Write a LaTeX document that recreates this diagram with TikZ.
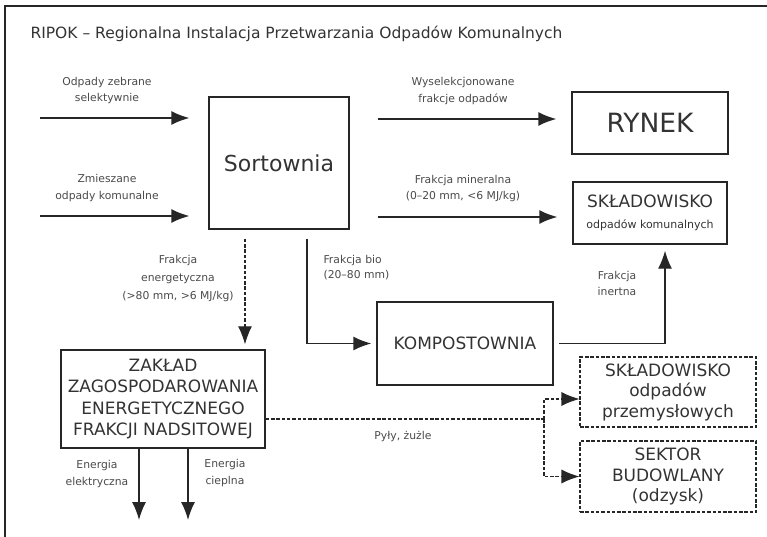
\documentclass[tikz,border=0pt]{standalone}
\usepackage{fontspec}
\setmainfont{DejaVu Sans}
\usetikzlibrary{arrows.meta}

\definecolor{ink}{HTML}{262626}
\definecolor{txtc}{HTML}{333333}
\definecolor{lblc}{HTML}{4A4A4A}

\begin{document}
\begin{tikzpicture}[x=1pt,y=-1pt,
		box/.style={draw=ink,line width=1.4pt,inner sep=0pt,align=center,text=txtc},
		dbox/.style={box,line width=1.1pt,dash pattern=on 3.5pt off 1.8pt},
		arr/.style={draw=ink,line width=1.4pt,-{Latex[length=18pt,width=14pt]}},
		darr/.style={arr,line width=1.1pt,dash pattern=on 3.5pt off 1.8pt},
		lbl/.style={text=lblc,align=center,font=\fontsize{10.8}{16.5}\selectfont},
		bigtxt/.style={font=\fontsize{17}{20.5}\selectfont}]

			\useasboundingbox (0,0) rectangle (767,537);

			\draw [ink, line width=1.5pt] (5,537)--(5,6)--(767,6);

			\node [anchor=base west, text=txtc, font=\fontsize{15.5}{18}\selectfont] (title) at (27,39) {RIPOK – Regionalna Instalacja Przetwarzania Odpadów Komunalnych};

			\node [box, minimum width=140, minimum height=132, font=\fontsize{22}{26}\selectfont] (sort) at (279,163) {Sortownia};
			\node [box, minimum width=156, minimum height=62, font=\fontsize{26.5}{30}\selectfont] (rynek) at (650,123) {RYNEK};
			\node [box, bigtxt, minimum width=154, minimum height=62] (sklk) at (650,213) {SKŁADOWISKO\\{\fontsize{11}{20}\selectfont odpadów komunalnych}};
			\node [box, bigtxt, minimum width=176, minimum height=83] (komp) at (465,343.5) {KOMPOSTOWNIA};
			\node [box, font=\fontsize{17}{21.3}\selectfont, minimum width=204, minimum height=98] (zaklad) at (163,399) {ZAKŁAD\\ZAGOSPODAROWANIA\\ENERGETYCZNEGO\\FRAKCJI NADSITOWEJ};
			\node [dbox, bigtxt, minimum width=176, minimum height=70] (sklp) at (668,392) {SKŁADOWISKO\\odpadów\\przemysłowych};
			\node [dbox, bigtxt, minimum width=176, minimum height=71] (sektor) at (668,476.5) {SEKTOR\\BUDOWLANY\\(odzysk)};

			\coordinate (in1) at (40,118);
			\coordinate (in2) at (40,216);
			\coordinate (o1) at ([yshift=4pt]rynek.west);
			\coordinate (o2) at ([yshift=-4pt]sklk.west);
			\coordinate (e1) at ([xshift=-34pt]sort.south);
			\coordinate (el) at (139,520);
			\coordinate (ci) at (188,520);
			\coordinate (split) at (544,419);

			\draw [arr, shorten >=19pt] (in1) -- (in1 -| sort.west);
			\draw [arr, shorten >=19pt] (in2) -- (in2 -| sort.west);
			\draw [arr, shorten <=28pt, shorten >=15pt] (o1 -| sort.east) -- (o1);
			\draw [arr, shorten <=28pt, shorten >=15pt] (o2 -| sort.east) -- (o2);

			\draw [darr, shorten <=9pt, shorten >=5pt] (e1) -- (e1 |- zaklad.north);
			\draw [arr, shorten <=9pt, shorten >=5pt] ([xshift=28pt]sort.south) |- (komp.west);
			\draw [arr, shorten <=5pt, shorten >=6pt] (komp.east) -| ([xshift=15pt]sklk.south);

			\draw [arr] (el |- zaklad.south) -- (el);
			\draw [arr] (ci |- zaklad.south) -- (ci);

			\draw [ink, line width=1.1pt, dash pattern=on 3.5pt off 1.8pt] ([yshift=-20pt]zaklad.east) -- (split);
			\draw [darr] (split) |- ([yshift=-7pt]sklp.west);
			\draw [darr] (split) |- (sektor.west);

			\node [lbl] (lsel) at (107,90.5) {Odpady zebrane\\selektywnie};
			\node [lbl] (lmix) at (107,188) {Zmieszane\\odpady komunalne};
			\node [lbl] (lwys) at (463,91) {Wyselekcjonowane\\frakcje odpadów};
			\node [lbl] (lmin) at (463,188.5) {Frakcja mineralna\\(0–20 mm, <6 MJ/kg)};
			\node [lbl, font=\fontsize{10.8}{18}\selectfont] (len) at (178,279) {Frakcja\\energetyczna\\(>80 mm, >6 MJ/kg)};
			\node [lbl, align=left, anchor=west, font=\fontsize{10.8}{15}\selectfont] (lbio) at (320,268) {Frakcja bio\\(20–80 mm)};
			\node [lbl] (lin) at (617,283.5) {Frakcja\\inertna};
			\node [lbl] (lel) at (97,474) {Energia\\elektryczna};
			\node [lbl] (lci) at (225,473) {Energia\\cieplna};
			\node [lbl] (lpy) at (403,437) {Pyły, żużle};
		\end{tikzpicture}
\end{document}
